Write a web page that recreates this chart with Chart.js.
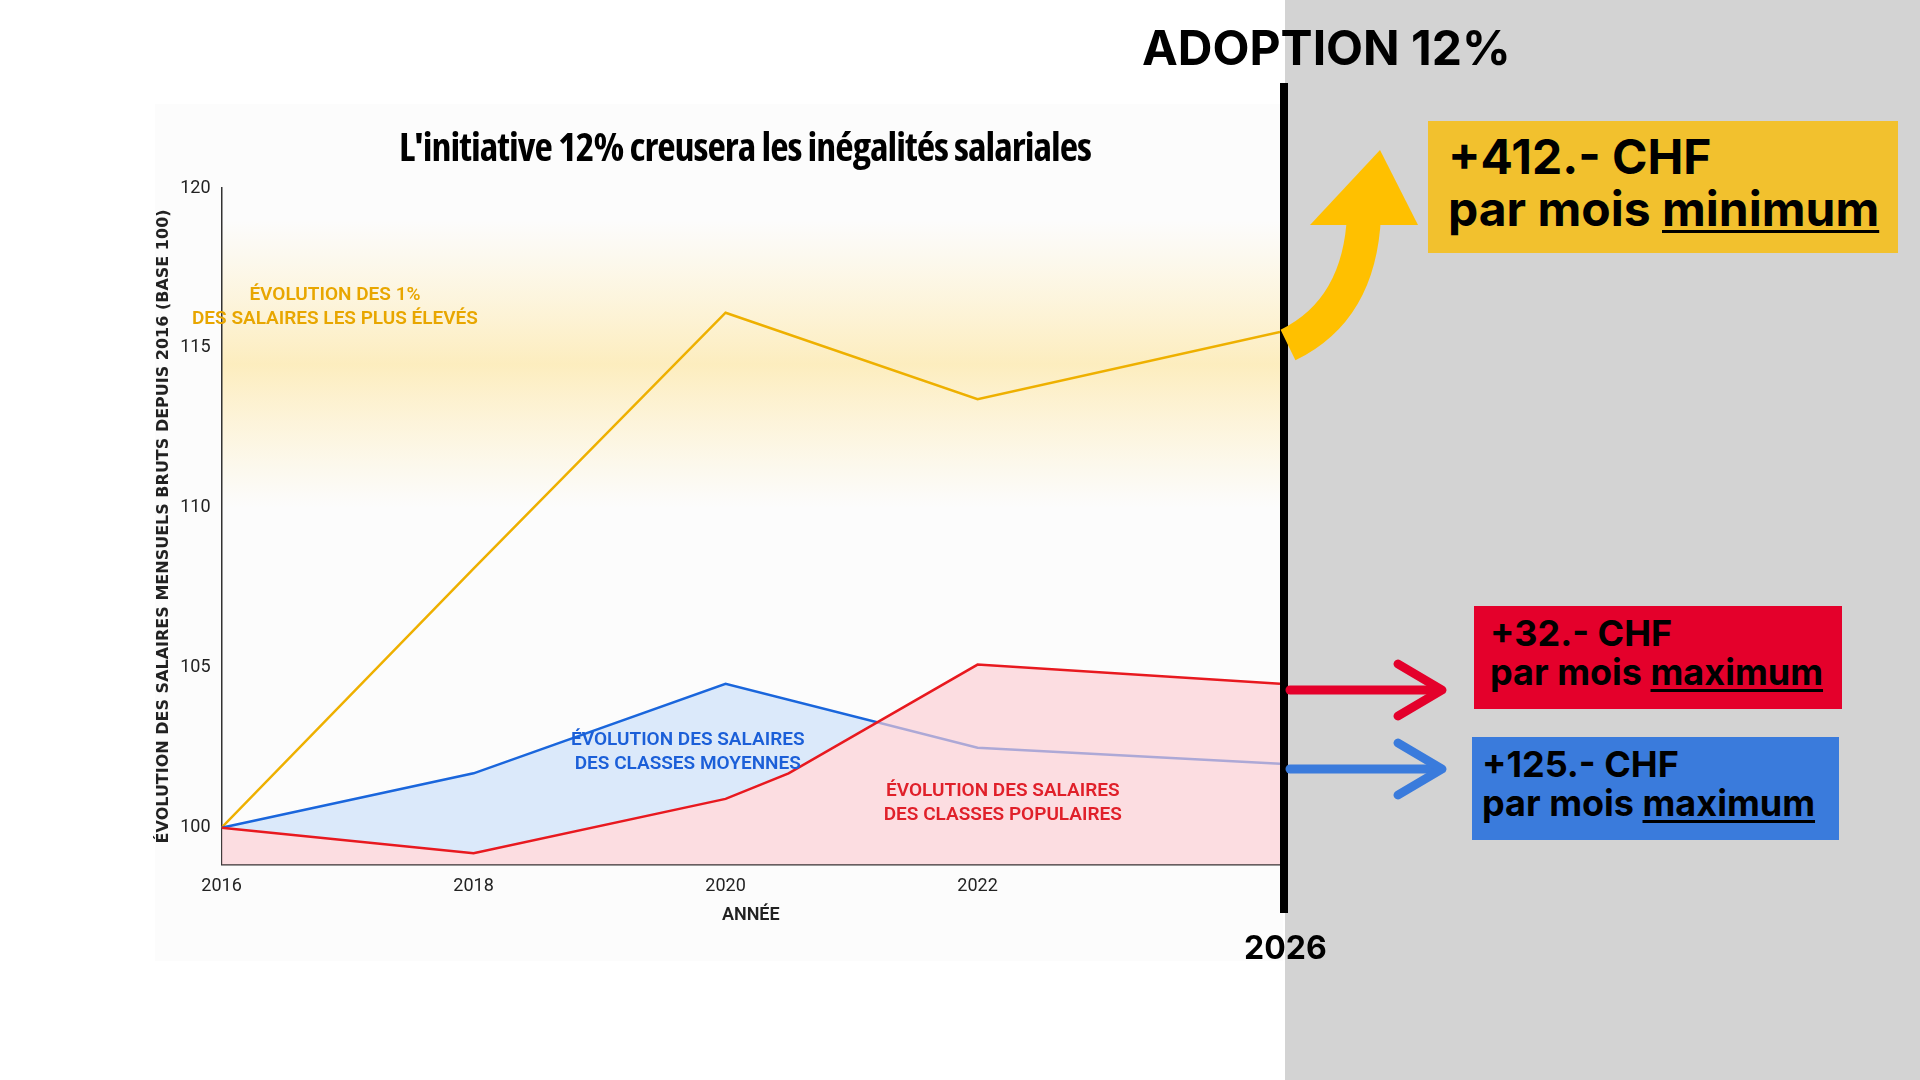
<!DOCTYPE html>
<html>
<head>
<meta charset="utf-8">
<script src="https://cdn.jsdelivr.net/npm/chart.js@4"></script>
<style>
  body { margin:0; width:1920px; height:1080px; background:#fff; position:relative; overflow:hidden; font-family:Inter, "Liberation Sans", sans-serif; }
  #grey { position:absolute; left:1285px; top:0; width:635px; height:1080px; background:#d3d3d3; }
  #c { position:absolute; left:0; top:0; }
  .t { position:absolute; font-weight:700; color:#000; white-space:nowrap; }
  .box { position:absolute; font-weight:700; color:#000; line-height:1.08; box-sizing:border-box; }
  .box u { text-decoration-thickness:3px; text-underline-offset:4px; }
</style>
</head>
<body>
<div id="grey"></div>
<canvas id="c" width="1920" height="1080"></canvas>
<div class="t" style="left:0;width:1490px;text-align:center;top:118px;font-size:40px;font-family:'Open Sans',sans-serif;font-stretch:condensed;letter-spacing:-1px">L'initiative 12% creusera les inégalités salariales</div>
<div class="t" style="left:1142px;top:18px;font-size:48px">ADOPTION 12%</div>
<div class="t" style="left:1244px;top:928px;font-size:32px">2026</div>
<div class="box" style="left:1428px;top:121px;width:470px;height:132px;background:#f2c12e;font-size:48px;padding:10px 0 0 20px">+412.- CHF<br>par mois <u>minimum</u></div>
<div class="box" style="left:1474px;top:606px;width:368px;height:103px;background:#e4002b;font-size:36px;padding:8px 0 0 16px">+32.- CHF<br>par mois <u>maximum</u></div>
<div class="box" style="left:1472px;top:737px;width:367px;height:103px;background:#3a7bdc;font-size:36px;padding:8px 0 0 10px">+125.- CHF<br>par mois <u>maximum</u></div>
<script>
// Données
const years = [2016, 2018, 2020, 2022, 2024.4];
const top1 = [100, 108.1, 116.1, 113.4, 115.5];
const middle = [100, 101.7, 104.5, 102.5, 102.0];
const redYears = [2016, 2018, 2020, 2020.5, 2022, 2024.4];
const popular = [100, 99.2, 100.9, 101.7, 105.1, 104.5];
const yTicks = [100, 105, 110, 115, 120];
const xTicks = [2016, 2018, 2020, 2022];

const pts = (xs, ys) => xs.map((x, i) => ({x: x, y: ys[i]}));
const narrow = "'Liberation Sans Narrow', 'Roboto', sans-serif";

const decor = {
  id: 'decor',
  beforeDraw(chart) {
    const c = chart.ctx, a = chart.chartArea, y = chart.scales.y;
    c.save();
    c.fillStyle = '#fcfcfc';
    c.fillRect(155, 104, 1128, 857);
    // halo jaune
    const y0 = y.getPixelForValue(119), y1 = y.getPixelForValue(110);
    const g = c.createLinearGradient(0, y0, 0, y1);
    g.addColorStop(0, 'rgba(255,230,160,0)');
    g.addColorStop(0.5, 'rgba(253,225,140,0.55)');
    g.addColorStop(1, 'rgba(255,230,160,0)');
    c.fillStyle = g;
    c.fillRect(a.left, y0, a.right - a.left, y1 - y0);
    c.restore();
  },
  afterDraw(chart) {
    const c = chart.ctx, x = chart.scales.x, y = chart.scales.y;
    c.save();
    c.textAlign = 'center';
    c.font = '600 19px ' + narrow;
    const lab = (txt, xv, yv, col) => {
      c.fillStyle = col;
      txt.forEach((t, i) => c.fillText(t, x.getPixelForValue(xv), y.getPixelForValue(yv) + i * 24));
    };
    lab(['ÉVOLUTION DES 1%', 'DES SALAIRES LES PLUS ÉLEVÉS'], 2016.9, 116.5, '#e8a600');
    lab(['ÉVOLUTION DES SALAIRES', 'DES CLASSES MOYENNES'], 2019.7, 102.6, '#1b5fd8');
    lab(['ÉVOLUTION DES SALAIRES', 'DES CLASSES POPULAIRES'], 2022.2, 101.0, '#e0202a');
    // ligne verticale
    c.fillStyle = '#000';
    c.fillRect(1280, 83, 8, 830);
    // flèches rouge et bleue
    const arrow = (yy, col) => {
      c.strokeStyle = col; c.lineWidth = 9; c.lineCap = 'round'; c.lineJoin = 'round';
      c.beginPath(); c.moveTo(1290, yy); c.lineTo(1440, yy); c.stroke();
      c.beginPath(); c.moveTo(1398, yy - 26); c.lineTo(1442, yy); c.lineTo(1398, yy + 26); c.stroke();
    };
    arrow(690, '#e4002b');
    arrow(769, '#3a7bdc');
    // flèche jaune courbe
    c.strokeStyle = '#ffc000'; c.lineWidth = 34; c.lineCap = 'butt';
    c.beginPath(); c.moveTo(1288, 345); c.quadraticCurveTo(1360, 310, 1364, 215); c.stroke();
    c.fillStyle = '#ffc000';
    c.beginPath(); c.moveTo(1310, 225); c.lineTo(1418, 225); c.lineTo(1380, 150); c.closePath(); c.fill();
    c.restore();
  }
};

new Chart(document.getElementById('c'), {
  type: 'line',
  data: {
    datasets: [
      { data: pts(redYears, popular), borderColor: '#e8191f', borderWidth: 2.5, pointRadius: 0,
        fill: 'start', backgroundColor: 'rgba(252,205,210,0.65)', tension: 0 },
      { data: pts(years, middle), borderColor: '#1a66dc', borderWidth: 2.5, pointRadius: 0,
        fill: { target: 0, above: 'rgba(205,225,250,0.7)', below: 'rgba(0,0,0,0)' }, tension: 0 },
      { data: pts(years, top1), borderColor: '#eeb000', borderWidth: 2.5, pointRadius: 0, fill: false, tension: 0 }
    ]
  },
  options: {
    responsive: false, animation: false,
    layout: { padding: { left: 150, top: 188, right: 640, bottom: 150 } },
    plugins: { legend: { display: false }, tooltip: { enabled: false } },
    scales: {
      x: {
        type: 'linear', min: 2016, max: 2024.4,
        afterBuildTicks: s => { s.ticks = xTicks.map(v => ({value: v})); },
        ticks: { color: '#222', font: { family: narrow, size: 18 }, callback: v => String(v) },
        grid: { display: false, drawTicks: true, tickLength: 8, color: '#333' },
        border: { color: '#333', width: 1.5 },
        title: { display: true, text: 'ANNÉE', color: '#222', font: { family: narrow, size: 18, weight: '600' } }
      },
      y: {
        min: 98.84, max: 120,
        afterBuildTicks: s => { s.ticks = yTicks.map(v => ({value: v})); },
        ticks: { color: '#222', font: { family: narrow, size: 18 } },
        grid: { display: false, drawTicks: true, tickLength: 8, color: '#333' },
        border: { color: '#333', width: 1.5 },
        title: { display: true, text: 'ÉVOLUTION DES SALAIRES MENSUELS BRUTS DEPUIS 2016 (BASE 100)', color: '#222',
                 font: { family: "'DejaVu Sans', sans-serif", size: 16, weight: '600' } }
      }
    }
  },
  plugins: [decor]
});
</script>
</body>
</html>
